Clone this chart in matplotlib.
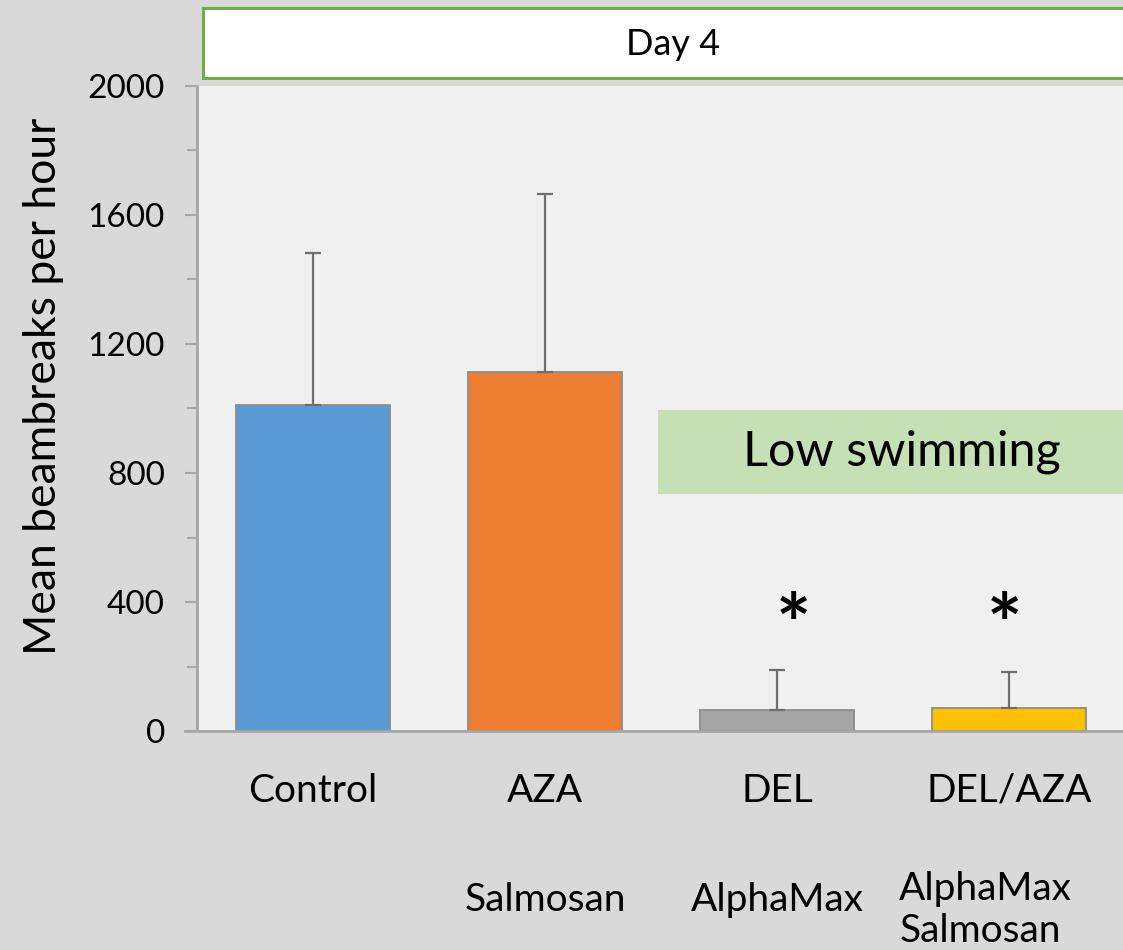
import matplotlib
matplotlib.use("Agg")
import matplotlib.pyplot as plt
from matplotlib.patches import Rectangle
import numpy as np

plt.rcParams['font.family'] = ['Lato', 'DejaVu Sans']

groups = ["Control", "AZA", "DEL", "DEL/AZA"]
products = ["", "Salmosan", "AlphaMax", "AlphaMax\nSalmosan"]
means = [1012, 1114, 65, 71]
errors = [470, 550, 124, 112]
colours = ["#5b9bd5", "#ed7d31", "#a5a5a5", "#ffc000"]
significant = [False, False, True, True]

fig = plt.figure(figsize=(11.23, 9.5), dpi=100)
fig.patch.set_facecolor("#d9d9d9")
ax = fig.add_axes([0.1754, 0.2305, 0.8264, 0.679])
ax.set_facecolor("#f0f0f0")

x = np.arange(len(groups))
ax.bar(x, means, width=0.667, color=colours, edgecolor="#8c8c8c", linewidth=1.3, zorder=2)
ax.errorbar(x, means, yerr=[np.zeros(len(errors)), errors], fmt="none",
            ecolor="#6e6e6e", elinewidth=1.6, capsize=6, capthick=1.6, zorder=3)

ax.set_xlim(-0.5, 3.5)
ax.set_ylim(0, 2000)
ax.set_yticks(np.arange(0, 2001, 400))
ax.set_yticks(np.arange(200, 2000, 400), minor=True)
ax.tick_params(axis="y", which="major", length=9, width=1.5, color="#a6a6a6",
               labelsize=24, pad=14)
ax.tick_params(axis="y", which="minor", length=7, width=1.5, color="#a6a6a6")
ax.set_xticks(x)
ax.set_xticklabels(groups, fontsize=28)
ax.tick_params(axis="x", length=0, pad=30)

for side in ["top", "right"]:
    ax.spines[side].set_visible(False)
ax.spines["left"].set_color("#a6a6a6")
ax.spines["left"].set_linewidth(2)
ax.spines["bottom"].set_color("#a6a6a6")
ax.spines["bottom"].set_linewidth(2)
ax.spines["bottom"].set_bounds(-0.55, 3.5)

ax.set_ylabel("Mean beambreaks per hour", fontsize=32, labelpad=17)
ax.yaxis.label.set_y(0.535)

# second row of labels: product names
for i, name in enumerate(products):
    if not name:
        continue
    if "\n" in name:
        ax.text(i - 0.1, -0.277, name, transform=ax.get_xaxis_transform(),
                ha="center", va="center", multialignment="left",
                fontsize=28, linespacing=1.22)
    else:
        ax.text(i, -0.262, name, transform=ax.get_xaxis_transform(),
                ha="center", va="center", fontsize=28)

# significance stars
star_shift = [0, 0, 0.07, -0.02]
for i, sig in enumerate(significant):
    if sig:
        ax.text(i + star_shift[i], 313, "*", ha="center", va="center", fontsize=60,
                fontweight="bold", zorder=4)

# shaded note box
ax.add_patch(Rectangle((1.487, 735), 2.1, 260, facecolor="#c5e0b4",
                       edgecolor="none", zorder=1, clip_on=True))
ax.text(2.54, 865, "Low swimming", ha="center", va="center", fontsize=35, zorder=4)

# header strip
fig.patches.append(Rectangle((0.1805, 0.918), 0.83, 0.074, transform=fig.transFigure,
                             facecolor="white", edgecolor="#70ad47", linewidth=2.2))
fig.text(0.599, 0.953, "Day 4", ha="center", va="center", fontsize=26)

fig.savefig("out.png", dpi=100, facecolor=fig.get_facecolor())
